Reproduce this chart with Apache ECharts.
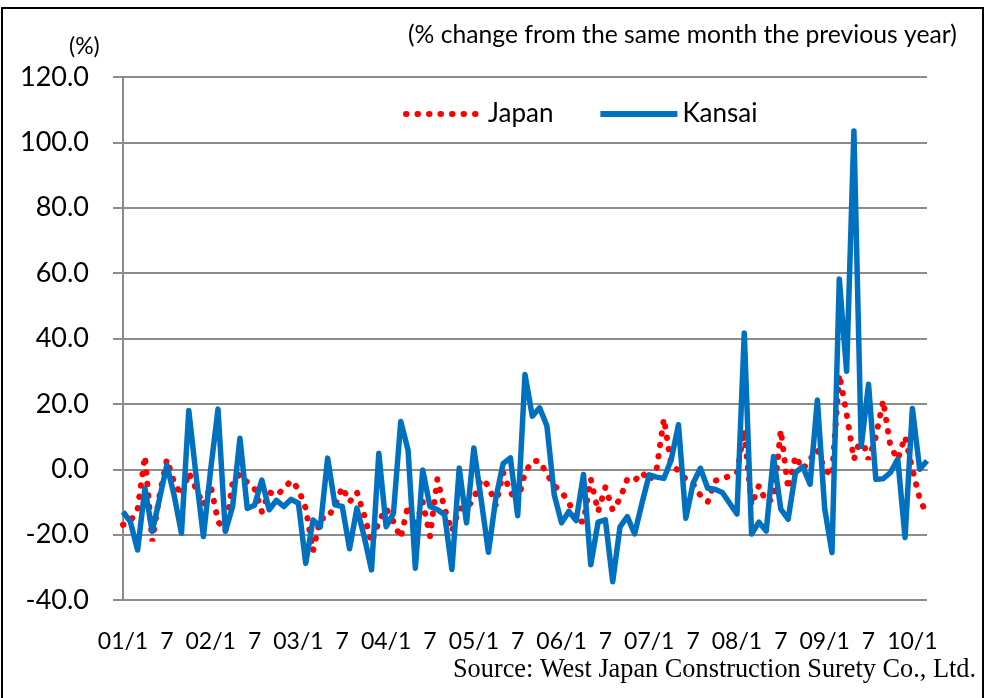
<!DOCTYPE html>
<html>
<head>
<meta charset="utf-8">
<script src="https://cdn.jsdelivr.net/npm/echarts@6/dist/echarts.min.js"></script>
<style>
  html, body { margin: 0; padding: 0; background: #fff; }
  #chart { width: 986px; height: 698px; }
</style>
</head>
<body>
<div id="chart"></div>
<script>
// months from 2001/1 to 2010/3
const startYear = 2001;
const monthCount = 111;
const months = [];
for (let i = 0; i < monthCount; i++) {
  const y = String((startYear + Math.floor(i / 12)) % 100).padStart(2, "0");
  months.push(y + "/" + (i % 12 + 1));
}

const yTicks = [-40, -20, 0, 20, 40, 60, 80, 100, 120];

// Japan (dotted red)
const japan = [
  -17, -16, -12, 4, -22, -8, 3, -4, -8, -1, -6, -11,
  -5, -16, -19, -4, -1.5, -4, -6, -13, -7, -8, -6, -3.5,
  -6, -12, -25, -15, -15, -11, -5.5, -10, -7, -14, -22.5, -16,
  -12, -16, -21, -11, -18, -10, -20.5, -3, -12, -19, -12, -12,
  -9, -3, -5, -11, -1, -7, -10, -1, 2.5, 2.5, -1.5, -5,
  -7, -10, -16, -16, -3, -13, -5.5, -12.5, -9, -3, -3.5, -1,
  -3.5, 0, 15.5, 1.5, -0.5, -3, -4.5, -8, -10, -3.5, -3, -2,
  -1, 12, -11, -5, -10, -9, 12, -6, 4, 0, 3, 6,
  0, -2, 29, 17, 3, 10, 3, 10, 21, 7, 3, 10,
  0, -9, -14
];

// Kansai (solid blue)
const kansai = [
  -13, -16, -24.7, -5.8, -19, -9, 1.3, -8, -19.6, 18, -2, -20.6,
  0, 18.4, -19, -11.4, 9.5, -12, -11, -3.3, -12.4, -9.5, -11.4, -9.2,
  -10.4, -28.8, -15.5, -17.6, 3.4, -10.9, -11.4, -24.3, -11.9, -20.6, -30.8, 4.9,
  -17.6, -13.5, 14.6, 5.9, -30.3, -0.2, -11.4, -12.3, -13.9, -30.7, 0.4, -16.4,
  6.5, -9.3, -25.4, -9, 1.7, 3.5, -14.2, 29, 16.2, 18.8, 13.2, -7.8,
  -16.4, -12.9, -15.7, -1.6, -29.2, -16.2, -15.5, -34.4, -17.6, -14.5, -19.8, -10.4,
  -1.7, -2.4, -2.8, 2.9, 13.6, -15, -4.3, 0.3, -5.8, -6.1, -7.1, -10.4,
  -13.7, 41.7, -19.8, -16.2, -18.9, 3.9, -12.2, -15.3, -1, 0.8, -4.6, 21.2,
  -12, -25.5, 58.2, 30, 103.5, 7, 26, -3.1, -2.9, -1, 3.1, -20.9,
  18.6, 0, 2.6
];

const font = "Lato";
const chart = echarts.init(document.getElementById("chart"));

chart.setOption({
  backgroundColor: "#fff",
  animation: false,
  grid: { left: 123, top: 77, right: 59, bottom: 98 },
  title: [
    {
      text: "(% change from the same month the previous year)",
      left: 403, top: 18,
      textStyle: { fontFamily: font, fontSize: 24.7, fontWeight: "normal", color: "#000" }
    },
    {
      text: "(%)",
      left: 64, top: 30,
      textStyle: { fontFamily: font, fontSize: 23, fontWeight: "normal", color: "#000" }
    },
    {
      text: "Source: West Japan Construction Surety Co., Ltd.",
      right: 5, top: 652,
      textStyle: { fontFamily: "Liberation Serif", fontSize: 26.3, fontWeight: "normal", color: "#000" }
    }
  ],
  legend: {
    left: 398, top: 96,
    itemWidth: 77, itemHeight: 24, itemGap: 44,
    textStyle: { fontFamily: font, fontSize: 26, color: "#000" },
    itemStyle: { opacity: 0 },
    lineStyle: { width: 6 },
    data: ["Japan", "Kansai"]
  },
  xAxis: {
    type: "category",
    boundaryGap: false,
    data: months,
    axisLine: { lineStyle: { color: "#8c8c8c", width: 2 } },
    axisTick: { show: false },
    axisLabel: {
      interval: 5,
      margin: 30,
      fontFamily: font, fontSize: 23, color: "#000",
      formatter: v => v.endsWith("/7") ? "7" : v
    },
    splitLine: { show: false }
  },
  yAxis: {
    type: "value",
    min: yTicks[0], max: yTicks[yTicks.length - 1], interval: 20,
    axisLine: { show: true, lineStyle: { color: "#8c8c8c", width: 2 } },
    axisTick: { show: true, length: 10, lineStyle: { color: "#8c8c8c", width: 2 } },
    axisLabel: {
      margin: 34,
      fontFamily: font, fontSize: 27, color: "#000",
      formatter: v => v.toFixed(1)
    },
    splitLine: { lineStyle: { color: "#8c8c8c", width: 2 } }
  },
  series: [
    {
      name: "Japan",
      type: "line",
      data: japan,
      symbol: "none",
      itemStyle: { color: "#ff0000" },
      lineStyle: { color: "#ff0000", width: 6, type: [0.5, 11], cap: "round" }
    },
    {
      name: "Kansai",
      type: "line",
      data: kansai,
      symbol: "none",
      itemStyle: { color: "#0070c0" },
      lineStyle: { color: "#0070c0", width: 5.5, join: "round" }
    }
  ],
  graphic: [
    {
      type: "rect",
      shape: { x: 2, y: 8, width: 981, height: 700 },
      style: { fill: null, stroke: "#000", lineWidth: 2 },
      silent: true
    }
  ]
});
</script>
</body>
</html>
